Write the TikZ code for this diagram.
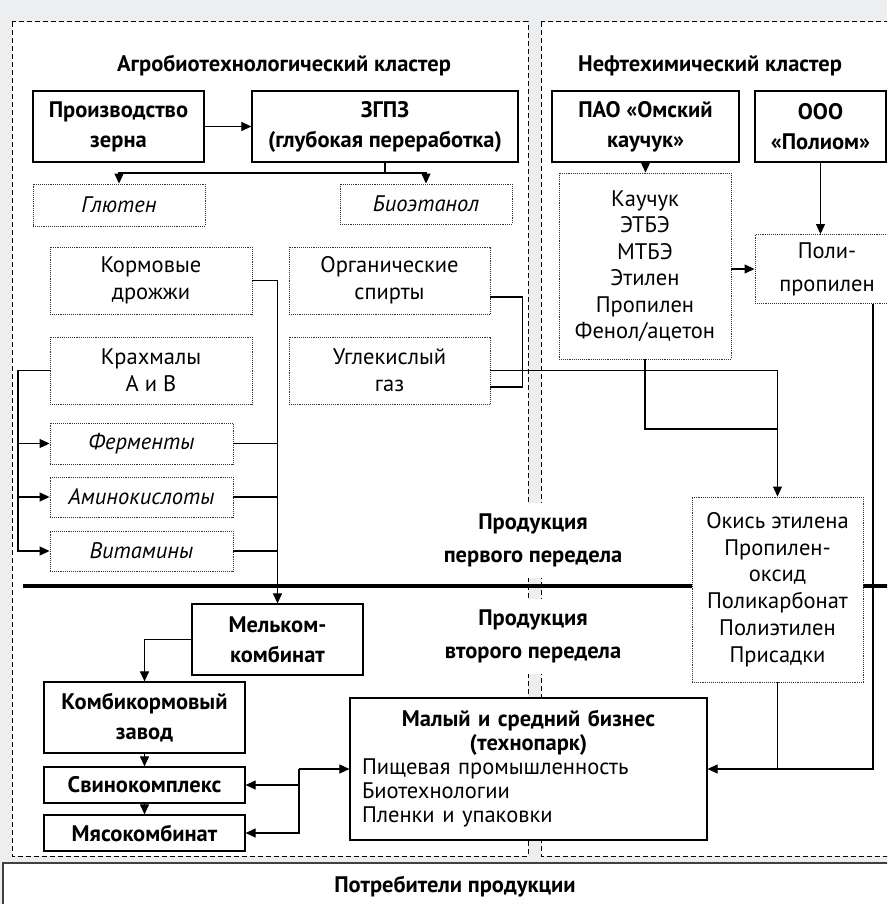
\documentclass[tikz,border=0pt]{standalone}
\usepackage{fontspec}
\setmainfont{PT Sans}
\usetikzlibrary{arrows.meta}
\definecolor{bggray}{RGB}{237,238,240}

\tikzset{
  frame/.style={draw, dash pattern=on 5pt off 3pt, line width=1pt, fill=white},
  title/.style={font=\fontsize{22.5}{26}\selectfont\bfseries},
  solidbox/.style={draw, line width=1.2pt, fill=white, inner sep=0pt, align=center,
    font=\fontsize{22.5}{30}\selectfont\bfseries},
  dotbox/.style={draw=black!80, densely dotted, line width=0.9pt, fill=white, inner sep=0pt,
    align=center, font=\fontsize{22.5}{27}\selectfont},
  itbox/.style={dotbox, font=\fontsize{22.5}{27}\selectfont\itshape},
  stage/.style={fill=white, align=center, minimum height=75pt, inner xsep=2pt,
    font=\fontsize{22.5}{33}\selectfont\bfseries},
  arr/.style={-{Triangle[length=10pt,width=9pt]}, line width=1.1pt},
  link/.style={line width=1.1pt},
}

\begin{document}
\begin{tikzpicture}[x=1pt,y=-1pt]
\useasboundingbox (0,0) rectangle (887,904);
\clip (0,0) rectangle (887,904);
\fill[bggray] (0,0) rectangle (887,904);

% clusters
\draw[frame] (12,22) rectangle (528,856);
\draw[frame] (541,22) rectangle (905,856);
\draw[line width=2pt, draw=black!75, fill=white] (3,863) rectangle (910,930);
\draw[line width=4pt] (23,586) -- (905,586);

\node[title] (agrotitle) at (284,66) {Агробиотехнологический кластер};
\node[title] (neftitle)  at (710,66) {Нефтехимический кластер};
\node[title] (users)     at (455,887) {Потребители продукции};

% agro cluster
\node[solidbox, minimum width=171pt, minimum height=71pt] (grain) at (118.5,126.5) {Производство\\зерна};
\node[solidbox, minimum width=266pt, minimum height=71pt] (zgpz)  at (385,126.5) {ЗГПЗ\\(глубокая переработка)};
\node[itbox, minimum width=172pt, minimum height=42pt] (gluten) at (119,205) {Глютен};
\node[itbox, minimum width=172pt, minimum height=40pt] (bioeth) at (426,204) {Биоэтанол};
\node[dotbox, minimum width=202pt, minimum height=67pt] (yeast)  at (151,280.5) {Кормовые\\дрожжи};
\node[dotbox, minimum width=201pt, minimum height=67pt] (alco)   at (389.5,280.5) {Органические\\спирты};
\node[dotbox, minimum width=202pt, minimum height=67pt] (starch) at (151,370.5) {Крахмалы\\А и В};
\node[dotbox, minimum width=201pt, minimum height=67pt] (co2)    at (389.5,370.5) {Углекислый\\газ};
\node[itbox, minimum width=183pt, minimum height=41pt] (enz)   at (141.5,443.5) {Ферменты};
\node[itbox, minimum width=183pt, minimum height=40pt] (amino) at (141.5,497) {Аминокислоты};
\node[itbox, minimum width=183pt, minimum height=40pt] (vit)   at (141.5,551) {Витамины};

\node[solidbox, minimum width=171pt, minimum height=71pt] (mill) at (277.5,639.5) {Мельком-\\комбинат};
\node[solidbox, minimum width=201pt, minimum height=71pt] (feed) at (144.5,717.5) {Комбикормовый\\завод};
\node[solidbox, minimum width=201pt, minimum height=36pt] (pig)  at (144.5,785) {Свинокомплекс};
\node[solidbox, minimum width=201pt, minimum height=36pt] (meat) at (144.5,833) {Мясокомбинат};

% petrochemical cluster
\node[solidbox, minimum width=187pt, minimum height=71pt] (pao) at (645.5,126.5) {ПАО «Омский\\каучук»};
\node[solidbox, minimum width=131pt, minimum height=71pt] (ooo) at (820.5,126.5) {ООО\\«Полиом»};
\node[dotbox, minimum width=172pt, minimum height=186pt, font=\fontsize{22.5}{26.5}\selectfont] (rubber) at (645,266)
  {Каучук\\ЭТБЭ\\МТБЭ\\Этилен\\Пропилен\\Фенол/ацетон};
\node[dotbox, minimum width=144pt, minimum height=69pt, font=\fontsize{22.5}{33}\selectfont] (pp) at (827,269) {Поли-\\пропилен};
\node[dotbox, minimum width=171pt, minimum height=185pt, font=\fontsize{22.5}{26.7}\selectfont] (oxide) at (777.5,589.5)
  {Окись этилена\\Пропилен-\\оксид\\Поликарбонат\\Полиэтилен\\Присадки};

\node[draw, line width=1.2pt, fill=white, inner sep=0pt, minimum width=357pt, minimum height=142pt,
  text width=333pt, align=left, font=\fontsize{22.5}{24}\selectfont] (smb) at (528.5,769)
  {{\centering\bfseries Малый и средний бизнес\\(технопарк)\par}Пищевая промышленность\\Биотехнологии\\Пленки и упаковки};

\node[stage] (stage1) at (533,540) {Продукция\\первого передела};
\node[stage] (stage2) at (533,636) {Продукция\\второго передела};

% connectors
\coordinate (split) at (385,173);
\coordinate (bus)   at (18,0);
\coordinate (join)  at (777.5,429);
\coordinate (fork)  at (299,769);

\draw[arr] (grain) -- (zgpz);
\draw[link] (zgpz.south) -- (split);
\draw[arr] (split) -| (gluten.north);
\draw[arr] (split) -| (bioeth.north);

\draw[arr] (yeast.east) -| (mill.north);
\draw[link] (enz.east) -- (enz.east -| mill.north);
\draw[link] (amino.east) -- (amino.east -| mill.north);
\draw[link] (vit.east) -- (vit.east -| mill.north);

\draw[arr] (starch.west) -- (starch.west -| bus) |- (vit.west);
\draw[arr] (enz.west -| bus) -- (enz.west);
\draw[arr] (amino.west -| bus) -- (amino.west);

\draw[link] ([yshift=-16.5pt]alco.east) -- ++(32,0) |- ([yshift=-16.5pt]co2.east);
\draw[arr] (co2.east) -| (oxide.north);
\draw[link] (rubber.south) |- (join);

\draw[arr] (mill.west) -| (feed.north);
\draw[arr] (feed) -- (pig);
\draw[arr] (pig) -- (meat);

\draw[arr] (pao.south) -- (pao.south |- rubber.north);
\draw[arr] (ooo.south) -- (ooo.south |- pp.north);
\draw[arr] (pp.west -| rubber.east) -- (pp.west);
\draw[arr] ([xshift=46pt]pp.south) |- (smb.east);
\draw[link] (oxide.south) -- (oxide.south |- smb.east);

\draw[arr] (fork) -- (smb.west);
\draw[arr] (fork |- pig.east) -- (pig.east);
\draw[arr] (fork) |- (meat.east);
\end{tikzpicture}
\end{document}
